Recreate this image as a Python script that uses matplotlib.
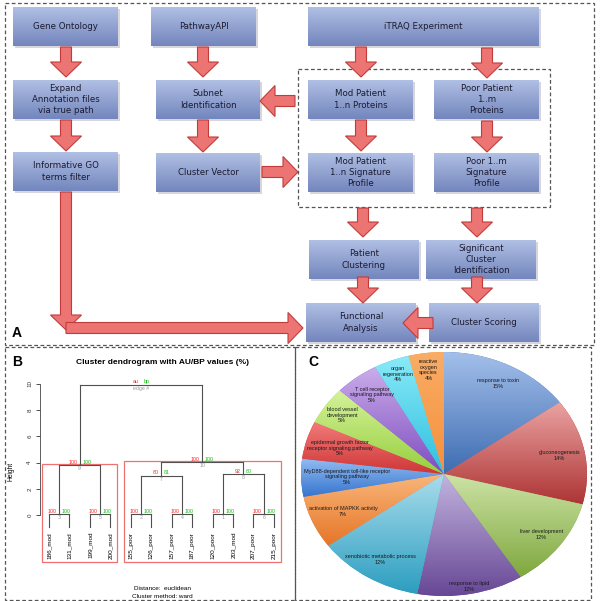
import matplotlib
matplotlib.use('Agg')
import matplotlib.pyplot as plt
import matplotlib.patches as mpatches
import numpy as np
from matplotlib.colors import to_rgb

W, H = 600, 601

# ---- panel A: flowchart ----
box_text = ['Gene Ontology', 'PathwayAPI', 'iTRAQ Experiment',
            'Expand\nAnnotation files\nvia true path', 'Subnet\nIdentification',
            'Mod Patient\n1..n Proteins', 'Poor Patient\n1..m\nProteins',
            'Informative GO\nterms filter', 'Cluster Vector',
            'Mod Patient\n1..n Signature\nProfile', 'Poor 1..m\nSignature\nProfile',
            'Patient\nClustering', 'Significant\nCluster\nIdentification',
            'Functional\nAnalysis', 'Cluster Scoring']

# ---- panel B: dendrogram ----
leaf_labels = ['186_mod', '131_mod', '199_mod', '200_mod', '155_poor', '126_poor',
               '157_poor', '187_poor', '120_poor', '203_mod', '207_poor', '215_poor']
# merges in edge order (negative = leaf, positive = earlier merge)
merge_a = [-9, -5, -1, -7, -3, -11, 2, 1, 3, 7, 9]
merge_b = [-10, -6, -2, -8, -4, -12, 4, 6, 5, 8, 10]
merge_h = [0.05, 0.05, 0.05, 0.05, 0.05, 0.05, 3.0, 3.1, 3.8, 4.05, 9.95]
au_vals = [100, 100, 100, 100, 100, 100, 80, 92, 100, 100]
bp_vals = [100, 100, 100, 100, 100, 100, 81, 80, 100, 100]

# ---- panel C: pie ----
pie_names = ['response to toxin', 'gluconeogenesis', 'liver development', 'response to lipid',
             'xenobiotic metabolic process', 'activation of MAPKK activity',
             'MyD88-dependent toll-like receptor\nsignaling pathway',
             'epidermal growth factor\nreceptor signaling pathway',
             'blood vessel\ndevelopment', 'T cell receptor\nsignaling pathway',
             'organ\nregeneration', 'reactive\noxygen\nspecies']
pie_pct = [15, 14, 12, 12, 12, 7, 5, 5, 5, 5, 4, 4]
pie_top = ['#a3bfea', '#eba3a3', '#cde3a6', '#c2b3de', '#a9dcec', '#f9b67a',
           '#93bcf2', '#f27a7a', '#d4f29a', '#caaceb', '#8aeaf8', '#f9ad66']
pie_bot = ['#3e6db2', '#ae3535', '#7fa83e', '#684896', '#2c9ec0', '#e67528',
           '#3575cf', '#cf3636', '#96cf3e', '#7e4dbf', '#2ebfe0', '#f68f3c']
label_r = [0.83, 0.82, 0.84, 0.94, 0.83, 0.77, 0.68, 0.76, 0.86, 0.82, 0.88, 0.86]

fig = plt.figure(figsize=(6, 6.01), dpi=100)
cv = fig.add_axes([0, 0, 1, 1])
cv.set_xlim(0, W)
cv.set_ylim(H, 0)
cv.axis('off')

def grad(c1, c2, n=64):
    a, b = np.array(to_rgb(c1)), np.array(to_rgb(c2))
    t = np.linspace(0, 1, n)[:, None]
    return (a + (b - a) * t)[:, None, :]

def dashed(x0, y0, x1, y1, **kw):
    cv.add_patch(mpatches.Rectangle((x0, y0), x1 - x0, y1 - y0, fill=False,
                                    ec='#555555', lw=0.9, ls=(0, (3, 2)), **kw))

dashed(5, 3, 594, 345)
dashed(5, 347, 295, 600)
dashed(295, 347, 591, 600)
dashed(298, 69, 550, 207)

box_xywh = [(13, 7, 105, 39), (151, 7, 105, 39), (308, 7, 231, 39),
            (13, 80, 105, 39), (156, 80, 104, 39), (308, 80, 105, 39), (434, 80, 105, 39),
            (13, 152, 105, 39), (156, 153, 104, 39), (308, 153, 105, 39), (434, 153, 105, 39),
            (309, 240, 110, 39), (426, 240, 110, 39), (306, 303, 110, 39), (429, 303, 110, 39)]

for (x, y, w, h), t in zip(box_xywh, box_text):
    cv.add_patch(mpatches.Rectangle((x + 1.5, y + 2), w, h, fc='#9a9aa8', ec='none', alpha=0.4))
    cv.imshow(grad('#b0bfe4', '#7386bd'), extent=(x, x + w, y + h, y), origin='upper',
              aspect='auto', interpolation='bilinear', zorder=2)
    cv.text(x + w / 2, y + h / 2, t, ha='center', va='center', fontsize=6.2,
            color='#1b1b30', linespacing=1.35, zorder=3, family='DejaVu Sans')

arrows = [(66, 47, 66, 77), (66, 120, 66, 151), (203, 47, 203, 77), (203, 120, 203, 152),
          (361, 47, 361, 77), (487, 48, 487, 78), (361, 120, 361, 151), (487, 121, 487, 152),
          (363, 208, 363, 237), (477, 208, 477, 237), (363, 277, 363, 303), (477, 277, 477, 303),
          (295, 101, 260, 101), (262, 172, 298, 172), (433, 323, 403, 323),
          (66, 192, 66, 330), (66, 328, 303, 328)]
for x0, y0, x1, y1 in arrows:
    cv.add_patch(mpatches.FancyArrow(x0, y0, x1 - x0, y1 - y0, width=11, head_width=31,
                                     head_length=15, length_includes_head=True,
                                     fc='#ec7473', ec='#c23b3b', lw=0.8, zorder=4))
cv.set_xlim(0, W)
cv.set_ylim(H, 0)

for s, (x, y) in zip('ABC', [(17, 333), (17, 362), (313, 362)]):
    cv.text(x, y, s, fontsize=10, fontweight='bold', family='Liberation Sans',
            ha='center', va='center')

# ---- dendrogram axes ----
px_unit_x, px_unit_y = 20.45, 13.1
ax_l, ax_r = 40, 290
y_top, y_bot = 10.3, -3.6
x0_px = 49  # leaf 1
dax = fig.add_axes([ax_l / W, 1 - (515 - px_unit_y * y_bot) / H,
                    (ax_r - ax_l) / W, (y_top - y_bot) * px_unit_y / H])
dax.set_xlim(1 - (x0_px - ax_l) / px_unit_x, 1 + (ax_r - x0_px) / px_unit_x)
dax.set_ylim(y_bot, y_top)
dax.patch.set_alpha(0)
for s in ['top', 'right', 'bottom']:
    dax.spines[s].set_visible(False)
dax.spines['left'].set_bounds(0, 10)
dax.spines['left'].set_linewidth(0.6)
dax.spines['left'].set_color('#444444')
dax.set_xticks([])
dax.set_yticks(range(0, 11, 2))
dax.tick_params(axis='y', length=3, width=0.6, labelsize=4.5, colors='#333333',
                labelrotation=90, pad=2.5)
for lb in dax.get_yticklabels():
    lb.set_family('Liberation Sans')
    lb.set_va('center')
dax.set_ylabel('Height', fontsize=4.8, family='Liberation Sans', labelpad=9)

hang = 0.1 * (max(merge_h) - min(merge_h))
node_x, node_y = {}, {}
lc = '#505050'
for k, (a, b, h) in enumerate(zip(merge_a, merge_b, merge_h), start=1):
    xs = []
    for c in (a, b):
        if c < 0:
            cx, cy = -c, h - hang
            dax.text(cx, cy - 0.35, leaf_labels[-c - 1], rotation=90, ha='center', va='top',
                     fontsize=4.6, family='Liberation Sans')
        else:
            cx, cy = node_x[c], node_y[c]
        dax.plot([cx, cx], [cy, h], color=lc, lw=0.8)
        xs.append(cx)
    dax.plot(xs, [h, h], color=lc, lw=0.8)
    node_x[k], node_y[k] = np.mean(xs), h

pvfont = dict(fontsize=3.8, family='Liberation Sans')
for k in range(1, len(merge_h) + 1):
    x, h = node_x[k], node_y[k]
    if k <= len(au_vals):
        a_txt, b_txt, e_txt = str(au_vals[k - 1]), str(bp_vals[k - 1]), str(k)
    else:
        a_txt, b_txt, e_txt = 'au', 'bp', 'edge #'
    dax.text(x - 0.12, h + 0.02, a_txt, color='#ff2020', ha='right', va='bottom', **pvfont)
    dax.text(x + 0.12, h + 0.02, b_txt, color='#10c010', ha='left', va='bottom', **pvfont)
    dax.text(x, h - 0.08, e_txt, color='#999999', ha='center', va='top', **pvfont)

# highlighted clusters
for k in (9, 10):
    leaves = []
    stack = [k]
    while stack:
        n = stack.pop()
        for c in (merge_a[n - 1], merge_b[n - 1]):
            (leaves if c < 0 else stack).append(-c if c < 0 else c)
    dax.add_patch(mpatches.Rectangle((min(leaves) - 0.34, y_bot),
                                     max(leaves) - min(leaves) + 0.67,
                                     merge_h[k - 1] + 0.1 - y_bot, fill=False,
                                     ec='#f07070', lw=0.9, clip_on=False))

fig.text(162 / W, 1 - 363 / H, 'Cluster dendrogram with AU/BP values (%)', ha='center',
         va='center', fontsize=6.0, fontweight='bold', family='Liberation Sans')
fig.text(162 / W, 1 - 589 / H, 'Distance:  euclidean', ha='center', va='center',
         fontsize=4.6, family='Liberation Sans')
fig.text(162 / W, 1 - 596 / H, 'Cluster method: ward', ha='center', va='center',
         fontsize=4.6, family='Liberation Sans')

# ---- pie axes ----
pl, pr, pt, pb = 301, 587, 352, 596
pax = fig.add_axes([pl / W, 1 - pb / H, (pr - pl) / W, (pb - pt) / H])
wedges, _ = pax.pie(pie_pct, startangle=90, counterclock=False, colors=pie_bot,
                    wedgeprops=dict(lw=0))
for w, c1, c2 in zip(wedges, pie_top, pie_bot):
    th = np.radians(np.linspace(w.theta1, w.theta2, 60))
    xs = np.concatenate([[0], np.cos(th)])
    ys = np.concatenate([[0], np.sin(th)])
    im = pax.imshow(grad(c1, c2), extent=(xs.min(), xs.max(), ys.min(), ys.max()),
                    origin='upper', aspect='auto', interpolation='bilinear', zorder=2)
    im.set_clip_path(w)
for w, name, p, r in zip(wedges, pie_names, pie_pct, label_r):
    mid = np.radians((w.theta1 + w.theta2) / 2)
    pax.text(r * np.cos(mid), r * np.sin(mid), f'{name}\n{p}%', ha='center', va='center',
             fontsize=4, color='#1a1a1a', family='Liberation Sans', linespacing=1.15, zorder=3)
pax.set_aspect('auto')
pax.set_xlim(-1, 1)
pax.set_ylim(-1, 1)
pax.axis('off')

fig.savefig('out.png', dpi=100)
